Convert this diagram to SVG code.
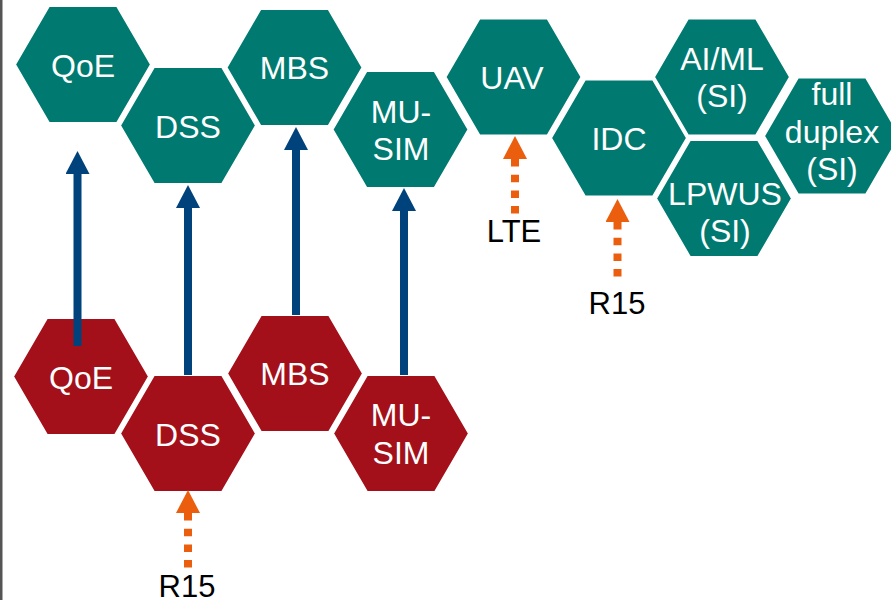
<svg xmlns="http://www.w3.org/2000/svg" xmlns:xlink="http://www.w3.org/1999/xlink" width="891" height="600" viewBox="0 0 891 600">
<style>
  .teal { fill: #007A70; stroke: #ffffff; stroke-width: 2; }
  .red { fill: #A3101A; stroke: #ffffff; stroke-width: 2; }
  .nt { font-family: "Liberation Sans", Arial, sans-serif; font-size: 32px; fill: #ffffff; text-anchor: middle; }
  .lbl { font-family: "Liberation Sans", Arial, sans-serif; font-size: 31px; fill: #000000; text-anchor: middle; }
  .blue { stroke: #00427B; stroke-width: 8; fill: none; marker-end: url(#blueHead); }
  .orange { stroke: #EB5E0E; stroke-width: 8; fill: none; stroke-dasharray: 7.5 8.2; marker-end: url(#orangeHead); }
</style>
<defs>
  <polygon id="hex" points="-68,0 -34,-58.5 34,-58.5 68,0 34,58.5 -34,58.5"/>
  <marker id="blueHead" viewBox="0 0 23 24" refX="0" refY="12" markerWidth="23" markerHeight="24" markerUnits="userSpaceOnUse" orient="auto">
    <path d="M0,0 L23,12 L0,24 Z" fill="#00427B"/>
  </marker>
  <marker id="orangeHead" viewBox="0 0 23 24" refX="0" refY="12" markerWidth="23" markerHeight="24" markerUnits="userSpaceOnUse" orient="auto">
    <path d="M0,0 L23,12 L0,24 Z" fill="#EB5E0E"/>
  </marker>
</defs>
<rect x="0" y="0" width="891" height="600" fill="#ffffff"/>
<rect x="0" y="0" width="2.5" height="600" fill="#555555"/>

<!-- Top row (teal) -->
<g id="qoe-top"><use xlink:href="#hex" x="83" y="64.5" class="teal"/><text class="nt" x="83" y="77">QoE</text></g>
<g id="dss-top"><use xlink:href="#hex" x="188" y="125.5" class="teal"/><text class="nt" x="188" y="138">DSS</text></g>
<g id="mbs-top"><use xlink:href="#hex" x="294.5" y="67.5" class="teal"/><text class="nt" x="294.5" y="79">MBS</text></g>
<g id="musim-top"><use xlink:href="#hex" x="400.5" y="129.5" class="teal"/><text class="nt" x="401" y="123">MU-</text><text class="nt" x="401" y="160">SIM</text></g>
<g id="uav"><use xlink:href="#hex" x="513.5" y="77" class="teal"/><text class="nt" x="512" y="89">UAV</text></g>
<g id="idc"><use xlink:href="#hex" x="619" y="138" class="teal"/><text class="nt" x="619" y="150">IDC</text></g>
<g id="aiml"><use xlink:href="#hex" x="722" y="77" class="teal"/><text class="nt" x="722" y="70">AI/ML</text><text class="nt" x="722" y="107">(SI)</text></g>
<g id="lpwus"><use xlink:href="#hex" x="724" y="198.5" class="teal"/><text class="nt" x="725" y="205">LPWUS</text><text class="nt" x="725" y="242">(SI)</text></g>
<g id="fullduplex"><use xlink:href="#hex" x="832" y="136" class="teal"/><text class="nt" x="832" y="105">full</text><text class="nt" x="832" y="142.5">duplex</text><text class="nt" x="832" y="180">(SI)</text></g>

<!-- Bottom row (red) -->
<g id="qoe-bottom"><use xlink:href="#hex" x="81" y="376.5" class="red"/><text class="nt" x="81" y="389">QoE</text></g>
<g id="dss-bottom"><use xlink:href="#hex" x="188" y="433.5" class="red"/><text class="nt" x="188" y="446">DSS</text></g>
<g id="mbs-bottom"><use xlink:href="#hex" x="295" y="373.5" class="red"/><text class="nt" x="295" y="385">MBS</text></g>
<g id="musim-bottom"><use xlink:href="#hex" x="401" y="433.5" class="red"/><text class="nt" x="401" y="426">MU-</text><text class="nt" x="401" y="464">SIM</text></g>

<!-- Connectors -->
<g id="connectors">
  <line class="blue" x1="77.5" y1="346" x2="77.5" y2="174"/>
  <line class="blue" x1="188" y1="375" x2="188" y2="208"/>
  <line class="blue" x1="296" y1="315" x2="296" y2="150"/>
  <line class="blue" x1="404" y1="375" x2="404" y2="211"/>
  <line class="orange" x1="515" y1="213.6" x2="515" y2="159"/>
  <line class="orange" x1="617.5" y1="276.6" x2="617.5" y2="222"/>
  <line class="orange" x1="188" y1="567.6" x2="188" y2="513"/>
</g>

<!-- Labels -->
<g id="labels">
  <text class="lbl" x="514" y="242">LTE</text>
  <text class="lbl" x="617" y="314">R15</text>
  <text class="lbl" x="187" y="597">R15</text>
</g>
</svg>
